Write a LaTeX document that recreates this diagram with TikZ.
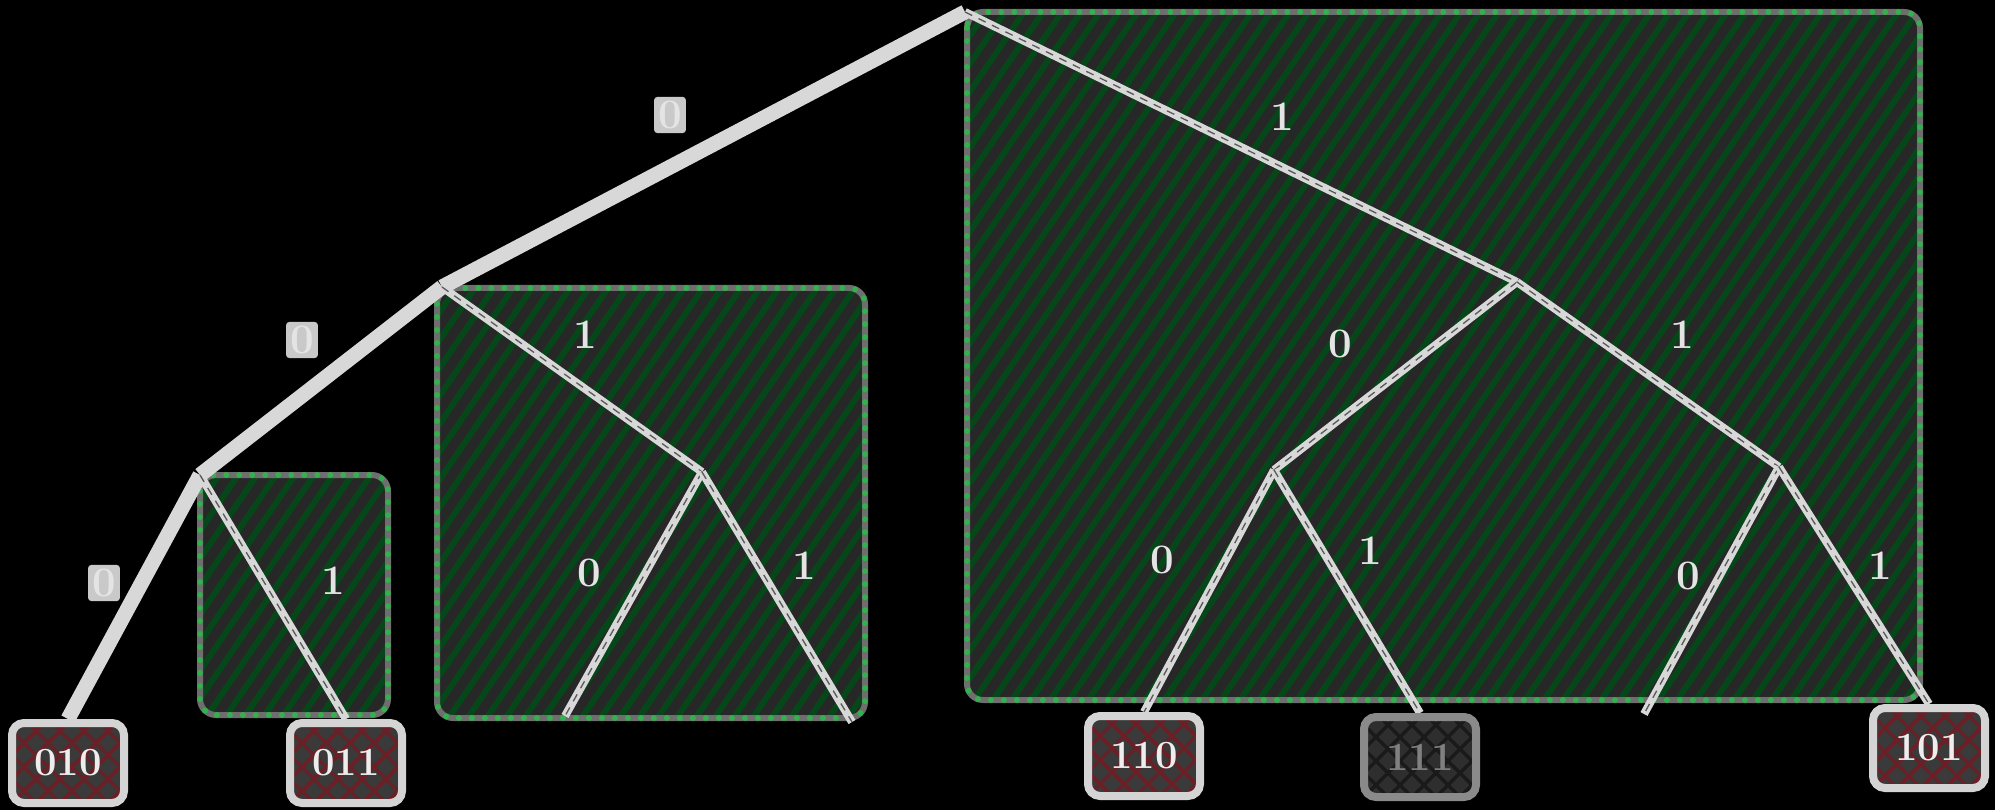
\documentclass[tikz,border=0pt]{standalone}
\usetikzlibrary{calc}
\definecolor{edgec}{HTML}{D8D8D8}
\definecolor{boxbgc}{HTML}{272727}
\definecolor{hatchc}{HTML}{06471A}
\definecolor{boxedgec}{HTML}{6E6E6E}
\definecolor{dotc}{HTML}{34B04F}
\definecolor{leafhatch}{HTML}{6B1F26}
\definecolor{leafbg}{HTML}{3A3A3A}
\definecolor{leafedge}{HTML}{D4D4D4}
\definecolor{dimedge}{HTML}{8A8A8A}
\definecolor{dimbg}{HTML}{2E2E2E}
\definecolor{dimhatch}{HTML}{1A1A1A}
\definecolor{labtext}{HTML}{E4E4E4}
\definecolor{labfill}{HTML}{C9C9C9}
\pgfdeclarelayer{bg}
\pgfdeclarelayer{mid}
\pgfsetlayers{bg,mid,main}
\tikzset{
  leafhatchcol/.store in=\lhc, leafhatchcol=leafhatch,
  thickedge/.style={draw=edgec, line width=15pt},
  inedge/.style={draw=edgec, line width=8pt,
    postaction={draw=black!65, line width=1.3pt, dash pattern=on 8pt off 7pt}},
  hatchline/.style={draw=hatchc, line width=6pt},
  boxedge/.style={draw=boxedgec, line width=6pt},
  boxdots/.style={draw=dotc, line width=6pt, line cap=round, dash pattern=on 0pt off 13pt},
  leafbox/.style={draw=leafedge, line width=8pt, fill=leafbg, rounded corners=12pt,
    minimum width=112pt, minimum height=80pt, text=white!93!black,
    font=\fontsize{40}{44}\selectfont\bfseries,
    path picture={
      \foreach \k in {-6,...,7} {
        \draw[draw=\lhc, line width=3.5pt]
          ($(path picture bounding box.south west)+(\k*24pt,0pt)$) -- ++(110pt,110pt);
        \draw[draw=\lhc, line width=3.5pt]
          ($(path picture bounding box.south west)+(\k*24pt,0pt)$) -- ++(-110pt,110pt);
      }
    }},
  dimleaf/.style={leafbox, draw=dimedge, fill=dimbg, leafhatchcol=dimhatch, text=gray},
  labout/.style={fill=labfill, text=labtext, inner sep=4pt, rounded corners=3pt,
    font=\fontsize{42}{44}\selectfont\bfseries},
  labin/.style={text=labtext, inner sep=2pt, font=\fontsize{42}{44}\selectfont\bfseries},
}
\newcommand\hatchregion[4]{%
  \begin{scope}
    \clip[rounded corners=16pt] (#1,#2) rectangle (#3,#4);
    \fill[boxbgc] (#1,#2) rectangle (#3,#4);
    \pgfmathsetmacro\hstart{#1-(#4-#2)*0.68}
    \pgfmathsetmacro\hnext{\hstart+19}
    \foreach \xx in {\hstart,\hnext,...,#3} {
      \draw[hatchline] (\xx,#4) -- ++({(#4-#2)*0.68},{-(#4-#2)});
    }
  \end{scope}
  \draw[boxedge, rounded corners=16pt] (#1,#2) rectangle (#3,#4);
  \draw[boxdots, rounded corners=16pt] (#1,#2) rectangle (#3,#4);
}
\begin{document}
\begin{tikzpicture}[x=1pt,y=-1pt]
\begin{pgfonlayer}{bg}
  \fill[black] (0,0) rectangle (1995,810);
  \hatchregion{200}{475}{388}{715}
  \hatchregion{437}{288}{865}{718}
  \hatchregion{967}{12}{1920}{700}
\end{pgfonlayer}
\useasboundingbox (0,0) rectangle (1995,810);

\coordinate (root) at (965,12);
\coordinate (a) at (442,287);
\coordinate (b) at (200,475);
\coordinate (c) at (702,472);
\coordinate (d) at (1517,282);
\coordinate (e) at (1274,470);
\coordinate (f) at (1779,467);
\coordinate (cl) at (565,716);
\coordinate (cr) at (852,722);
\coordinate (fl) at (1644,714);

\node[leafbox] (l010) at (68,763) {010};
\node[leafbox] (l011) at (346,763) {011};
\node[leafbox] (l110) at (1144,756) {110};
\node[dimleaf] (l111) at (1420,757) {111};
\node[leafbox] (l101) at (1929,748) {101};

\begin{pgfonlayer}{mid}
  \draw[thickedge] (root) -- (a);
  \draw[thickedge] (a) -- (b);
  \draw[thickedge] (b) -- (l010.north);
  \draw[inedge] (b) -- (l011.north);
  \draw[inedge] (a) -- (c);
  \draw[inedge] (c) -- (cl);
  \draw[inedge] (c) -- (cr);
  \draw[inedge] (root) -- (d);
  \draw[inedge] (d) -- (e);
  \draw[inedge] (d) -- (f);
  \draw[inedge] (e) -- (l110.north);
  \draw[inedge] (e) -- (l111.north);
  \draw[inedge] (f) -- (fl);
  \draw[inedge] (f) -- (l101.north);
\end{pgfonlayer}

\node[labout] (t1) at (670,115) {0};
\node[labout] (t2) at (302,340) {0};
\node[labout] (t3) at (104,583) {0};
\node[labin] (t4) at (333,581) {1};
\node[labin] (t5) at (585,335) {1};
\node[labin] (t6) at (589,573) {0};
\node[labin] (t7) at (804,566) {1};
\node[labin] (t8) at (1282,117) {1};
\node[labin] (t9) at (1340,344) {0};
\node[labin] (t10) at (1682,335) {1};
\node[labin] (t11) at (1162,560) {0};
\node[labin] (t12) at (1370,551) {1};
\node[labin] (t13) at (1688,576) {0};
\node[labin] (t14) at (1880,566) {1};
\end{tikzpicture}
\end{document}
